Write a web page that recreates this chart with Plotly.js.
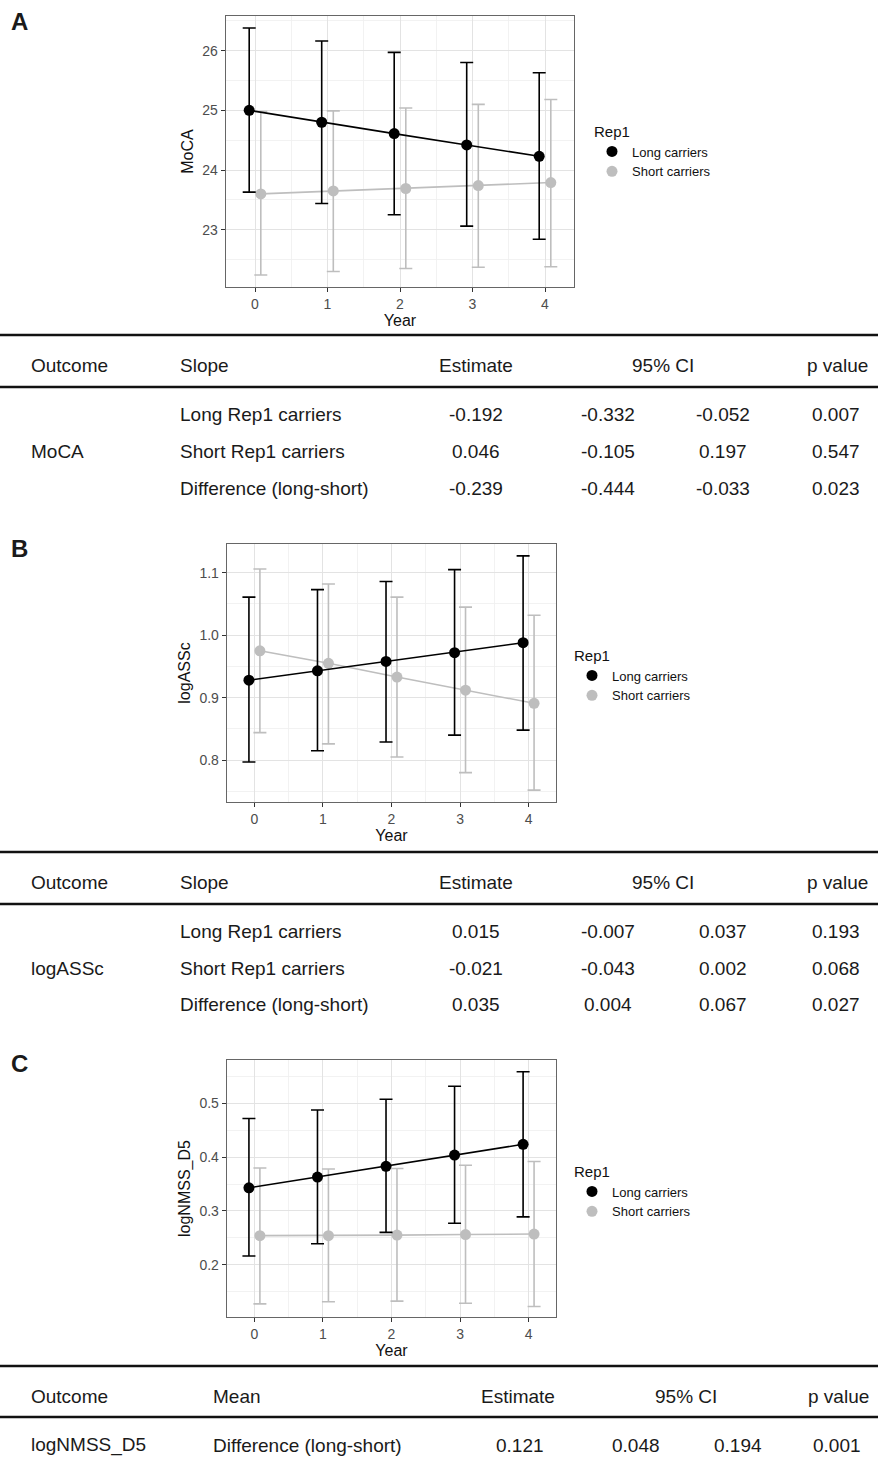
<!DOCTYPE html>
<html>
<head>
<meta charset="utf-8">
<script src="https://cdn.plot.ly/plotly-3.0.1.min.js"></script>
<style>
html,body{margin:0;padding:0;background:#fff;}
#chart{width:878px;height:1459px;}
</style>
</head>
<body>
<div id="chart"></div>
<script>
// ---------- data ----------
const years = [0, 1, 2, 3, 4];
const seriesNames = ["Long carriers", "Short carriers"];

// Panel A: MoCA
const mocaLong    = [25.00, 24.80, 24.61, 24.42, 24.23];
const mocaLongLo  = [23.63, 23.44, 23.25, 23.06, 22.84];
const mocaLongHi  = [26.38, 26.16, 25.97, 25.80, 25.63];
const mocaShort   = [23.60, 23.65, 23.69, 23.74, 23.79];
const mocaShortLo = [22.24, 22.30, 22.35, 22.37, 22.38];
const mocaShortHi = [24.98, 24.99, 25.04, 25.10, 25.18];

// Panel B: logASSc
const assLong    = [0.928, 0.943, 0.958, 0.972, 0.988];
const assLongLo  = [0.797, 0.815, 0.829, 0.840, 0.848];
const assLongHi  = [1.061, 1.073, 1.086, 1.105, 1.127];
const assShort   = [0.975, 0.955, 0.933, 0.912, 0.891];
const assShortLo = [0.844, 0.826, 0.805, 0.780, 0.752];
const assShortHi = [1.106, 1.082, 1.061, 1.045, 1.032];

// Panel C: logNMSS_D5
const nmsLong    = [0.343, 0.363, 0.383, 0.404, 0.424];
const nmsLongLo  = [0.216, 0.239, 0.260, 0.277, 0.289];
const nmsLongHi  = [0.472, 0.488, 0.508, 0.532, 0.559];
const nmsShort   = [0.254, 0.254, 0.255, 0.256, 0.257];
const nmsShortLo = [0.127, 0.131, 0.132, 0.128, 0.122];
const nmsShortHi = [0.380, 0.378, 0.379, 0.385, 0.392];

// Tables
const headerSlope = ["Outcome", "Slope", "Estimate", "95% CI", "p value"];
const headerMean  = ["Outcome", "Mean", "Estimate", "95% CI", "p value"];
const slopeRows   = ["Long Rep1 carriers", "Short Rep1 carriers", "Difference (long-short)"];

const tabAOutcome = "MoCA";
const tabAEst = ["-0.192", "0.046", "-0.239"];
const tabALo  = ["-0.332", "-0.105", "-0.444"];
const tabAHi  = ["-0.052", "0.197", "-0.033"];
const tabAP   = ["0.007", "0.547", "0.023"];

const tabBOutcome = "logASSc";
const tabBEst = ["0.015", "-0.021", "0.035"];
const tabBLo  = ["-0.007", "-0.043", "0.004"];
const tabBHi  = ["0.037", "0.002", "0.067"];
const tabBP   = ["0.193", "0.068", "0.027"];

const tabCOutcome = "logNMSS_D5";
const tabCRows = ["Difference (long-short)"];
const tabCEst = ["0.121"];
const tabCLo  = ["0.048"];
const tabCHi  = ["0.194"];
const tabCP   = ["0.001"];

// ---------- layout helpers ----------
const W = 878, H = 1459;
const px = v => v / W;
const py = v => 1 - v / H;
const FONT = "Liberation Sans, Arial, sans-serif";
const LONG_COL = "#000000";
const SHORT_COL = "#bebebe";
const DODGE = 0.08;

function dodge(xs, d) { return xs.map(v => v + d); }
function up(hi, y) { return hi.map((v, i) => v - y[i]); }
function down(lo, y) { return y.map((v, i) => v - lo[i]); }

const traces = [];
function addPanel(ax, leg, yL, loL, hiL, yS, loS, hiS, capW) {
  const xa = "x" + ax, ya = "y" + ax;
  const xs = dodge(years, DODGE), xl = dodge(years, -DODGE);
  // short first (below), then long
  traces.push({x: xs, y: yS, xaxis: xa, yaxis: ya, mode: "lines", showlegend: false, hoverinfo: "skip",
    line: {color: SHORT_COL, width: 1.6}});
  traces.push({x: xs, y: yS, xaxis: xa, yaxis: ya, mode: "markers", name: seriesNames[1], legend: leg, legendrank: 2,
    marker: {color: SHORT_COL, size: 11},
    error_y: {type: "data", symmetric: false, array: up(hiS, yS), arrayminus: down(loS, yS), color: SHORT_COL, thickness: 1.6, width: capW}});
  traces.push({x: xl, y: yL, xaxis: xa, yaxis: ya, mode: "lines", showlegend: false, hoverinfo: "skip",
    line: {color: LONG_COL, width: 1.6}});
  traces.push({x: xl, y: yL, xaxis: xa, yaxis: ya, mode: "markers", name: seriesNames[0], legend: leg, legendrank: 1,
    marker: {color: LONG_COL, size: 11},
    error_y: {type: "data", symmetric: false, array: up(hiL, yL), arrayminus: down(loL, yL), color: LONG_COL, thickness: 1.6, width: capW}});
}
addPanel("", "legend", mocaLong, mocaLongLo, mocaLongHi, mocaShort, mocaShortLo, mocaShortHi, 6.5);
addPanel("2", "legend2", assLong, assLongLo, assLongHi, assShort, assShortLo, assShortHi, 6.5);
addPanel("3", "legend3", nmsLong, nmsLongLo, nmsLongHi, nmsShort, nmsShortLo, nmsShortHi, 6.5);

function xAxis(domain, anchor) {
  return {
    domain: domain, anchor: anchor, range: [-0.4, 4.4], tickvals: years,
    showgrid: true, gridcolor: "#e3e3e3", gridwidth: 1,
    minor: {dtick: 0.5, tick0: 0, showgrid: true, gridcolor: "#efefef", gridwidth: 0.8, ticks: ""},
    zeroline: false, showline: true, mirror: true, linecolor: "#666666", linewidth: 1.3,
    ticks: "outside", ticklen: 4, tickcolor: "#333", tickwidth: 1,
    tickfont: {family: FONT, size: 14, color: "#4d4d4d"},
    title: {text: "Year", font: {family: FONT, size: 16, color: "#111"}, standoff: 1},
    automargin: false, fixedrange: true
  };
}
function yAxis(domain, anchor, range, dtick, tick0, title, fmt) {
  return {
    domain: domain, anchor: anchor, range: range, dtick: dtick, tick0: tick0, tickformat: fmt,
    showgrid: true, gridcolor: "#e3e3e3", gridwidth: 1,
    minor: {dtick: dtick / 2, tick0: tick0, showgrid: true, gridcolor: "#efefef", gridwidth: 0.8, ticks: ""},
    zeroline: false, showline: true, mirror: true, linecolor: "#666666", linewidth: 1.3,
    ticks: "outside", ticklen: 4, tickcolor: "#333", tickwidth: 1,
    tickfont: {family: FONT, size: 14, color: "#4d4d4d"},
    title: {text: title, font: {family: FONT, size: 16, color: "#111"}, standoff: 4},
    automargin: false, fixedrange: true
  };
}

function legendAt(x, y) {
  return {
    x: px(x), y: py(y), xanchor: "left", yanchor: "top",
    title: {text: "Rep1", font: {family: FONT, size: 15, color: "#111"}},
    font: {family: FONT, size: 13, color: "#111"},
    bgcolor: "rgba(0,0,0,0)", borderwidth: 0, itemwidth: 30, tracegroupgap: 0,
    itemclick: false, itemdoubleclick: false
  };
}

const annotations = [];
const shapes = [];
function txt(text, x, y, anchor, size, bold) {
  annotations.push({
    text: bold ? "<b>" + text + "</b>" : text, x: px(x), y: py(y), xref: "paper", yref: "paper",
    xanchor: anchor, yanchor: "middle", showarrow: false,
    font: {family: FONT, size: size, color: "#1a1a1a"}
  });
}
function hline(y) {
  shapes.push({type: "line", xref: "paper", yref: "paper", x0: 0, x1: 1, y0: py(y), y1: py(y),
    line: {color: "#111", width: 2.5}});
}

// panel letters
txt("A", 9, 22, "left", 24, true);
txt("B", 9, 548, "left", 24, true);
txt("C", 9, 1063, "left", 24, true);

// slope tables (A, B)
function slopeTable(top, outcome, est, lo, hi, p) {
  hline(top);
  hline(top + 52);
  const hy = top + 30;
  txt(headerSlope[0], 29, hy, "left", 19);
  txt(headerSlope[1], 178, hy, "left", 19);
  txt(headerSlope[2], 476, hy, "center", 19);
  txt(headerSlope[3], 663, hy, "center", 19);
  txt(headerSlope[4], 837, hy, "center", 19);
  const rowY = [top + 79, top + 116, top + 153];
  txt(outcome, 29, rowY[1], "left", 19);
  slopeRows.forEach((r, i) => {
    txt(r, 178, rowY[i], "left", 19);
    txt(est[i], 476, rowY[i], "center", 19);
    txt(lo[i], 608, rowY[i], "center", 19);
    txt(hi[i], 723, rowY[i], "center", 19);
    txt(p[i], 836, rowY[i], "center", 19);
  });
}
slopeTable(335, tabAOutcome, tabAEst, tabALo, tabAHi, tabAP);
slopeTable(852, tabBOutcome, tabBEst, tabBLo, tabBHi, tabBP);

// mean table (C)
(function () {
  const top = 1366;
  hline(top);
  hline(top + 51);
  const hy = top + 30;
  txt(headerMean[0], 29, hy, "left", 19);
  txt(headerMean[1], 211, hy, "left", 19);
  txt(headerMean[2], 518, hy, "center", 19);
  txt(headerMean[3], 686, hy, "center", 19);
  txt(headerMean[4], 838, hy, "center", 19);
  const ry = top + 79;
  txt(tabCOutcome, 29, ry, "left", 19);
  txt(tabCRows[0], 211, ry, "left", 19);
  txt(tabCEst[0], 520, ry, "center", 19);
  txt(tabCLo[0], 636, ry, "center", 19);
  txt(tabCHi[0], 738, ry, "center", 19);
  txt(tabCP[0], 837, ry, "center", 19);
})();

const layout = {
  width: W, height: H,
  margin: {l: 0, r: 0, t: 0, b: 0},
  paper_bgcolor: "#fff", plot_bgcolor: "#fff",
  font: {family: FONT, color: "#111"},
  xaxis:  xAxis([px(226), px(574)], "y"),
  yaxis:  yAxis([py(287), py(16)], "x", [22.04, 26.58], 1, 23, "MoCA", ""),
  xaxis2: xAxis([px(227), px(556)], "y2"),
  yaxis2: yAxis([py(802), py(544)], "x2", [0.733, 1.146], 0.1, 0.8, "logASSc", ".1f"),
  xaxis3: xAxis([px(227), px(556)], "y3"),
  yaxis3: yAxis([py(1317), py(1060)], "x3", [0.1025, 0.581], 0.1, 0.2, "logNMSS_D5", ".1f"),
  legend:  legendAt(592, 117),
  legend2: legendAt(572, 641),
  legend3: legendAt(572, 1157),
  showlegend: true,
  annotations: annotations,
  shapes: shapes
};

Plotly.newPlot("chart", traces, layout, {displayModeBar: false, staticPlot: true});
</script>
</body>
</html>
